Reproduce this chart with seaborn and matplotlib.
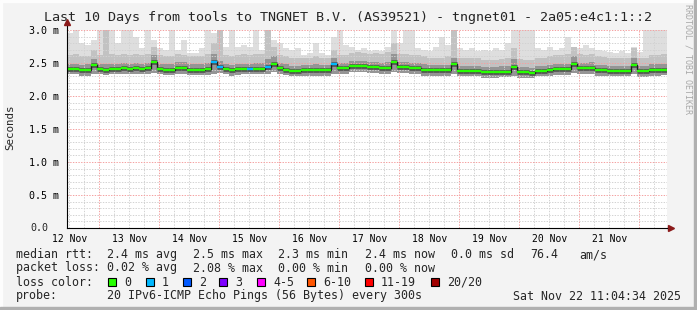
import numpy as np
import matplotlib
matplotlib.use("Agg")
import matplotlib.pyplot as plt
import matplotlib.transforms as mtrans
from matplotlib.patches import Rectangle
import seaborn as sns

# ---------------- data ----------------
title = "Last 10 Days from tools to TNGNET B.V. (AS39521) - tngnet01 - 2a05:e4c1:1::2"
day_labels = ["12 Nov", "13 Nov", "14 Nov", "15 Nov", "16 Nov",
              "17 Nov", "18 Nov", "19 Nov", "20 Nov", "21 Nov"]
y_ticks = [0.0, 0.5, 1.0, 1.5, 2.0, 2.5, 3.0]
y_tick_labels = ["0.0", "0.5 m", "1.0 m", "1.5 m", "2.0 m", "2.5 m", "3.0 m"]

# median rtt (ms), one value per 2.4 h step
median = [2.41, 2.41, 2.39, 2.39, 2.47, 2.41, 2.40, 2.41, 2.41, 2.42,
          2.41, 2.42, 2.41, 2.42, 2.52, 2.41, 2.40, 2.40, 2.43, 2.43,
          2.40, 2.40, 2.40, 2.41, 2.52, 2.44, 2.41, 2.39, 2.41, 2.41,
          2.41, 2.41, 2.41, 2.44, 2.49, 2.42, 2.40, 2.385, 2.385, 2.39,
          2.39, 2.40, 2.39, 2.39, 2.48, 2.42, 2.42, 2.45, 2.45, 2.45,
          2.44, 2.44, 2.42, 2.42, 2.52, 2.44, 2.44, 2.42, 2.42, 2.40,
          2.39, 2.39, 2.39, 2.39, 2.48, 2.385, 2.385, 2.385, 2.385, 2.36,
          2.36, 2.36, 2.37, 2.37, 2.44, 2.36, 2.36, 2.35, 2.385, 2.385,
          2.39, 2.405, 2.405, 2.41, 2.49, 2.42, 2.42, 2.43, 2.39, 2.39,
          2.385, 2.385, 2.38, 2.385, 2.47, 2.375, 2.375, 2.40, 2.40, 2.40]

# lost pings per step (out of 20)
loss = [0] * 24 + [1, 1] + [0] * 4 + [1] + [0] * 2 + [1] + [0] * 10 + [1] + [0] * 55

# smoke: lowest ping, inner/outer upper quantiles, highest ping
smoke_lo = [2.33, 2.33, 2.31, 2.31, 2.33, 2.33, 2.32, 2.33, 2.33, 2.33,
            2.33, 2.33, 2.33, 2.33, 2.35, 2.33, 2.32, 2.32, 2.34, 2.34,
            2.32, 2.32, 2.32, 2.32, 2.34, 2.35, 2.33, 2.31, 2.32, 2.33,
            2.33, 2.33, 2.33, 2.34, 2.36, 2.34, 2.32, 2.30, 2.30, 2.31,
            2.31, 2.31, 2.31, 2.31, 2.34, 2.34, 2.34, 2.36, 2.36, 2.36,
            2.35, 2.35, 2.34, 2.34, 2.36, 2.35, 2.35, 2.34, 2.33, 2.31,
            2.30, 2.30, 2.30, 2.30, 2.33, 2.30, 2.30, 2.30, 2.30, 2.28,
            2.28, 2.28, 2.29, 2.29, 2.31, 2.28, 2.28, 2.27, 2.30, 2.30,
            2.31, 2.32, 2.32, 2.32, 2.35, 2.34, 2.34, 2.34, 2.31, 2.31,
            2.30, 2.30, 2.30, 2.30, 2.33, 2.29, 2.29, 2.31, 2.31, 2.32]

smoke_q1 = [2.49, 2.49, 2.47, 2.48, 2.56, 2.49, 2.48, 2.49, 2.49, 2.50,
            2.49, 2.50, 2.49, 2.50, 2.62, 2.49, 2.48, 2.48, 2.51, 2.51,
            2.48, 2.48, 2.48, 2.50, 2.64, 2.53, 2.49, 2.47, 2.49, 2.49,
            2.49, 2.50, 2.50, 2.56, 2.60, 2.50, 2.48, 2.46, 2.46, 2.47,
            2.47, 2.48, 2.47, 2.47, 2.58, 2.50, 2.50, 2.53, 2.53, 2.53,
            2.52, 2.52, 2.50, 2.52, 2.64, 2.52, 2.52, 2.50, 2.50, 2.48,
            2.47, 2.47, 2.47, 2.47, 2.58, 2.46, 2.46, 2.46, 2.46, 2.44,
            2.44, 2.44, 2.45, 2.46, 2.56, 2.44, 2.44, 2.43, 2.46, 2.46,
            2.47, 2.48, 2.48, 2.49, 2.60, 2.50, 2.50, 2.51, 2.47, 2.47,
            2.46, 2.46, 2.46, 2.46, 2.58, 2.45, 2.45, 2.48, 2.48, 2.48]

smoke_q2 = [2.62, 2.64, 2.60, 2.60, 2.70, 2.62, 3.05, 2.63, 2.62, 2.64,
            2.62, 2.63, 2.62, 2.64, 2.75, 2.62, 2.60, 2.60, 2.64, 2.62,
            2.60, 2.60, 2.61, 2.64, 2.80, 3.05, 2.62, 2.60, 2.62, 2.63,
            2.62, 2.63, 2.64, 3.05, 2.74, 2.62, 2.60, 2.57, 2.57, 2.58,
            2.58, 2.60, 2.58, 2.58, 2.70, 2.62, 2.62, 2.65, 2.66, 2.65,
            2.64, 2.65, 2.63, 2.66, 2.80, 2.64, 2.64, 2.62, 2.62, 2.60,
            2.58, 2.58, 2.58, 2.60, 3.05, 2.58, 2.57, 2.57, 2.57, 2.55,
            2.55, 2.55, 2.56, 2.58, 2.73, 2.56, 2.55, 2.54, 2.57, 2.58,
            2.60, 2.62, 2.62, 2.63, 2.75, 2.63, 2.62, 2.64, 2.60, 2.59,
            2.58, 2.58, 2.58, 2.58, 2.72, 2.58, 2.58, 2.62, 2.62, 2.63]

smoke_max = [2.95, 3.05, 2.80, 2.77, 2.85, 3.05, 3.05, 3.05, 2.80, 3.05,
             3.05, 2.90, 2.72, 3.05, 2.85, 2.72, 2.70, 3.05, 2.70, 2.85,
             2.65, 2.65, 2.72, 3.05, 2.95, 3.05, 2.75, 3.05, 2.75, 2.78,
             2.75, 3.05, 2.70, 3.05, 2.85, 2.80, 2.72, 2.70, 2.72, 2.62,
             2.65, 2.80, 2.65, 2.62, 2.90, 3.05, 2.78, 2.75, 2.70, 2.72,
             2.68, 2.70, 2.68, 2.75, 3.05, 2.80, 3.05, 3.05, 2.72, 2.70,
             2.68, 2.75, 2.90, 2.78, 2.85, 2.72, 2.70, 2.72, 2.68, 2.70,
             2.68, 2.72, 2.70, 2.80, 3.05, 3.05, 3.05, 3.05, 2.72, 2.70,
             2.75, 2.70, 2.72, 2.90, 2.75, 2.72, 2.78, 2.72, 2.70, 2.68,
             2.66, 2.65, 2.68, 2.65, 2.75, 2.66, 3.05, 3.05, 3.05, 3.05]

loss_names = ["0", "1", "2", "3", "4-5", "6-10", "11-19", "20/20"]
loss_colors = ["#26ff00", "#00b8ff", "#0059ff", "#7e00ff",
               "#ff00ff", "#ff5500", "#ff0000", "#a10000"]

# ---------------- figure ----------------
W, H = 697, 310
MONO = "DejaVu Sans Mono"
sns.set_style("white")
plt.rcParams["font.family"] = [MONO, "DejaVu Sans"]

fig = plt.figure(figsize=(W / 100, H / 100), dpi=100, facecolor="#f3f3f3")


def fx(px):
    return px / W


def fy(py):
    return 1 - py / H


# frame
fig.patches.append(Rectangle((0, fy(2)), 1, fy(0) - fy(2), transform=fig.transFigure, color="#fdfdfd", zorder=0))
fig.patches.append(Rectangle((0, 0), fx(2), 1, transform=fig.transFigure, color="#fdfdfd", zorder=0))
fig.patches.append(Rectangle((0, 0), 1, 3 / H, transform=fig.transFigure, color="#b0b0b0", zorder=0))
fig.patches.append(Rectangle((fx(694), 0), 3 / W, 1, transform=fig.transFigure, color="#b0b0b0", zorder=0))

ax = fig.add_axes([fx(67), fy(228), 600 / W, 198 / H])
ax.set_facecolor("white")

step_h = 2.4
n = len(median)
edges = np.arange(n + 1) * step_h


def ext(a):
    return np.append(np.asarray(a, float), a[-1])


ax.fill_between(edges, ext(smoke_lo), ext(smoke_max), step="post", color="#dedede", lw=0, zorder=1)
ax.fill_between(edges, ext(smoke_lo), ext(smoke_q2), step="post", color="#c2c2c2", lw=0, zorder=1.1)
ax.fill_between(edges, ext(smoke_lo), ext(smoke_q1), step="post", color="#959595", lw=0, zorder=1.2)

# grid
dot = (0, (1.4, 1.4))
start_off = 0.924          # hours from window start to the next 12:00
for k in range(40):
    xh = start_off + 6 * k
    if xh >= 240:
        break
    is_mid = (k % 4) == 2
    ax.axvline(xh, color="#f4a0a0" if is_mid else "#d2d2d2", lw=0.7, ls=dot, zorder=2)
for k in range(1, 31):
    yv = k / 10
    major = k % 5 == 0
    ax.axhline(yv, color="#f4a0a0" if major else "#d2d2d2", lw=0.7, ls=dot, zorder=2)

# dark smoke core around the median (horizontal only), then median line with loss colours
ax.hlines(median, edges[:-1], edges[1:], colors="#5c5c5c", lw=3.6, zorder=2.5)
sns.lineplot(x=edges, y=ext(median), drawstyle="steps-post", color="#1e1e1e",
             lw=1.0, ax=ax, zorder=3, sort=False)
ax.hlines(median, edges[:-1], edges[1:], colors=[loss_colors[l] for l in loss], lw=1.7, zorder=4)

ax.set_xlim(0, 240)
ax.set_ylim(0, 3.0)
ax.set_xlabel("")
ax.set_ylabel("")
for s in ["top", "right"]:
    ax.spines[s].set_visible(False)
for s in ["left", "bottom"]:
    ax.spines[s].set_color("#000000")
    ax.spines[s].set_linewidth(0.8)
    ax.spines[s].set_zorder(5)

# axis extension + arrows
ax.plot([0, 0], [1, 1.045], transform=ax.transAxes, color="black", lw=0.8, clip_on=False)
ax.plot([0], [1.04], marker="^", ms=4.5, color="#8b1a1a", transform=ax.transAxes, clip_on=False)
ax.plot([1, 1.008], [0, 0], transform=ax.transAxes, color="black", lw=0.8, clip_on=False)
ax.plot([1.006], [0], marker=">", ms=4.5, color="#8b1a1a", transform=ax.transAxes, clip_on=False)

# ticks
noon = [start_off + 24 * k for k in range(len(day_labels))]
ax.set_xticks(noon)
ax.set_xticklabels(day_labels, fontsize=7, family=MONO)
ax.set_yticks(y_ticks)
ax.set_yticklabels([lab if lab != "0.0" else "" for lab in y_tick_labels], fontsize=7.2, family=MONO)
ax.tick_params(axis="x", length=0, pad=4.5, colors="black")
ax.tick_params(axis="y", length=2, pad=3.5, colors="black", width=0.6)
blend = mtrans.blended_transform_factory(fig.transFigure, ax.transData)
ax.text(fx(48), 0.0, "0.0", transform=blend, ha="right", va="center", fontsize=7.2, family=MONO)

# texts
fig.text(0.5, fy(18), title, ha="center", va="center", fontsize=9.6, family=MONO)
fig.text(fx(10), fy(127), "Seconds", rotation=90, ha="center", va="center", fontsize=7.8, family=MONO)
fig.text(fx(688), fy(4), "RRDTOOL / TOBI OETIKER", rotation=270, ha="center", va="top",
         fontsize=6, family=MONO, color="#a8a8a8")

FS = 8.4
rows = {1: 254.5, 2: 268, 3: 282, 4: 296}


def put(px, row, s):
    fig.text(fx(px), fy(rows[row]), s, ha="left", va="center", fontsize=FS, family=MONO)


put(16, 1, "median rtt:")
put(107, 1, "2.4 ms avg")
put(193, 1, "2.5 ms max")
put(278, 1, "2.3 ms min")
put(365, 1, "2.4 ms now")
put(451, 1, "0.0 ms sd")
put(530, 1, "76.4")
put(579, 1, "am/s")
put(16, 2, "packet loss:")
put(107, 2, "0.02 % avg")
put(193, 2, "2.08 % max")
put(278, 2, "0.00 % min")
put(365, 2, "0.00 % now")
put(16, 3, "loss color:")
box_x = [108, 146, 183, 219, 257, 307, 365, 431]
for bx, name, col in zip(box_x, loss_names, loss_colors):
    fig.patches.append(Rectangle((fx(bx), fy(286)), 8 / W, 8 / H, transform=fig.transFigure,
                                 facecolor=col, edgecolor="black", lw=0.8))
    put(bx + 16, 3, name)
put(16, 4, "probe:")
put(107, 4, "20 IPv6-ICMP Echo Pings (56 Bytes) every 300s")
put(513, 4, "Sat Nov 22 11:04:34 2025")

fig.savefig("out.png", dpi=100, facecolor=fig.get_facecolor())
